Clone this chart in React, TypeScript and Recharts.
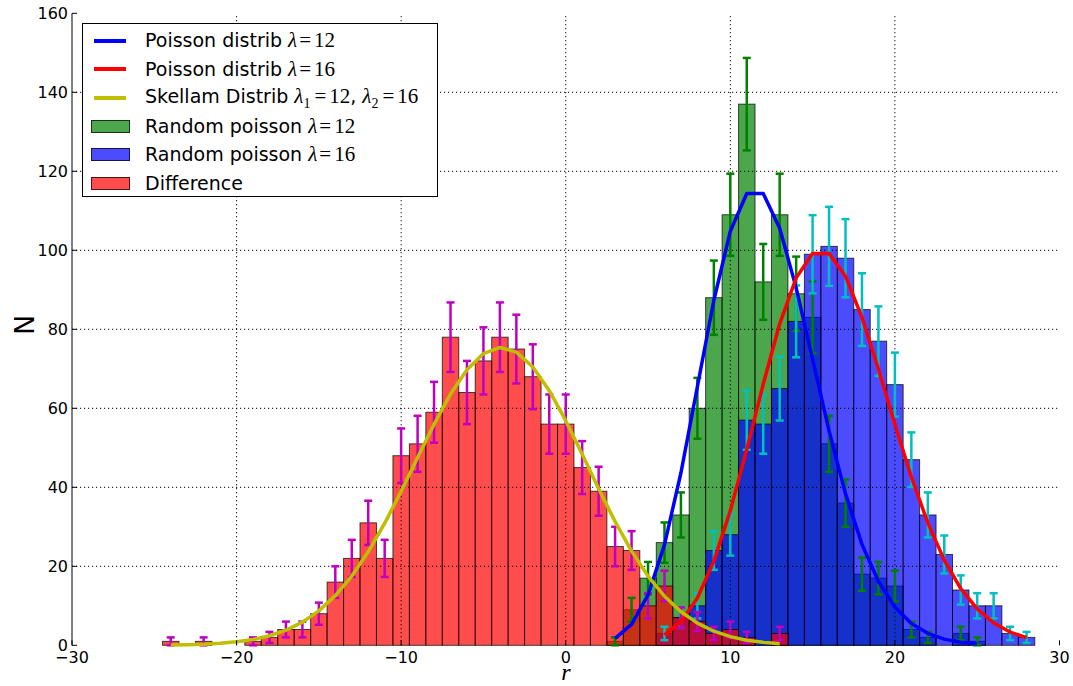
import { Bar, ComposedChart, ErrorBar, Line, ReferenceLine, XAxis, YAxis } from "recharts";

const W = 1073;
const H = 686;
const LEFT = 72;
const RIGHT = 1059.5;
const TOP = 13.3;
const BOTTOM = 645.3;
const BIN = (RIGHT - LEFT) / 60;

const SANS = "'DejaVu Sans', sans-serif";
const SERIF = "'Liberation Serif', 'DejaVu Serif', serif";

const GREEN = "#008000";
const BLUE = "#0000ff";
const RED = "#ff0000";
const YELLOW = "#bfbf00";
const MAGENTA = "#bf00bf";
const CYAN = "#00bfbf";

// bin centres (integer r)
const R = [
  -24, -23, -22, -21, -20, -19, -18, -17, -16, -15, -14, -13, -12, -11, -10, -9, -8, -7, -6,
  -5, -4, -3, -2, -1, 0, 1, 2, 3, 4, 5, 6, 7, 8, 9, 10, 11, 12, 13, 14, 15, 16, 17, 18, 19,
  20, 21, 22, 23, 24, 25, 26, 27, 28,
];

const X_TICKS = [-30, -20, -10, 0, 10, 20, 30];
const Y_TICKS = [0, 20, 40, 60, 80, 100, 120, 140, 160];

// difference histogram, r = -24 .. 13
const DIFF_FROM = -24;
const diffCounts = [
  1, 0, 1, 0, 0, 1, 2, 4, 4, 8, 16, 22, 31, 22, 48, 51, 59, 78, 64, 72, 78, 75, 68, 56, 56,
  45, 39, 25, 24, 10, 15, 7, 6, 3, 4, 2, 0, 3,
];
const diffErr = [
  1.0, null, 1.0, null, null, 1.0, 1.4, 2.0, 2.0, 2.8, 4.0, 4.7, 5.6, 4.7, 6.9, 7.1, 7.7, 8.8,
  8.0, 8.5, 8.8, 8.7, 8.2, 7.5, 7.5, 6.7, 6.2, 5.0, 4.9, 3.2, 3.9, 2.6, 2.4, 1.7, 2.0, 1.4,
  null, 1.7,
];

// random poisson lambda=12, r = 3 .. 25
const P12_FROM = 3;
const p12Counts = [
  1, 9, 17, 26, 33, 60, 88, 109, 137, 92, 109, 89, 83, 51, 36, 18, 17, 15, 4, 2, 0, 3, 1,
];
const p12Err = [
  1.0, 3.0, 4.1, 5.1, 5.7, 7.7, 9.4, 10.4, 11.7, 9.6, 10.4, 9.4, 9.1, 7.1, 6.0, 4.2, 4.1, 3.9,
  2.0, 1.4, null, 1.7, 1.0,
];

// random poisson lambda=16, r = 6 .. 28
const P16_FROM = 6;
const p16Counts = [
  3, 7, 10, 24, 28, 57, 56, 65, 82, 99, 101, 98, 85, 77, 66, 47, 33, 23, 14, 10, 10, 3, 2,
];
const p16Err = [
  1.7, 2.6, 3.2, 4.9, 5.3, 7.5, 7.5, 8.1, 9.1, 9.9, 10.0, 9.9, 9.2, 8.8, 8.1, 6.9, 5.7, 4.8,
  3.7, 3.2, 3.2, 1.7, 1.4,
];

// expected counts (N = 1000)
const pois12Curve = [
  1.77, 5.31, 12.74, 25.48, 43.68, 65.52, 87.36, 104.84, 114.37, 114.37, 105.57, 90.49, 72.39,
  54.29, 38.33, 25.55, 16.14, 9.68, 5.53, 3.02, 1.57, 0.79, 0.38,
];
const pois16Curve = [
  2.62, 5.99, 11.99, 21.31, 34.1, 49.6, 66.13, 81.39, 93.02, 99.22, 99.22, 93.38, 83.01, 69.9,
  55.92, 42.61, 30.99, 21.56, 14.37, 9.2, 5.66, 3.35, 1.92,
];
const skellamCurve = [
  0.08, 0.15, 0.28, 0.51, 0.88, 1.48, 2.41, 3.82, 5.86, 8.72, 12.57, 17.54, 23.67, 30.9, 38.99,
  47.53, 55.96, 63.6, 69.78, 73.85, 75.4, 74.23, 70.46, 64.47, 56.87, 48.36, 39.63, 31.31,
  23.85, 17.52, 12.42, 8.49, 5.6, 3.57, 2.2, 1.3, 0.75, 0.42,
];

const at = (arr: (number | null)[], from: number, x: number) => {
  const v = arr[x - from];
  return v === undefined ? null : v;
};

const rows = R.map((x) => ({
  x,
  diff: at(diffCounts, DIFF_FROM, x),
  diffErr: at(diffErr, DIFF_FROM, x),
  green: at(p12Counts, P12_FROM, x),
  greenErr: at(p12Err, P12_FROM, x),
  blue: at(p16Counts, P16_FROM, x),
  blueErr: at(p16Err, P16_FROM, x),
  p12: at(pois12Curve, P12_FROM, x),
  p16: at(pois16Curve, P16_FROM, x),
  sk: at(skellamCurve, DIFF_FROM, x),
}));

const fmt = (v: number) => (v < 0 ? `\u2212${-v}` : `${v}`);

const histShape = (color: string) => (p: any) => {
  if (!p.height || p.height <= 0) return <g />;
  return (
    <rect
      x={p.x}
      y={p.y}
      width={BIN}
      height={p.height}
      fill={color}
      fillOpacity={0.7}
      stroke="#000"
      strokeOpacity={0.7}
      strokeWidth={1}
    />
  );
};

const BottomTick = ({ x, payload }: any) => (
  <g>
    <line x1={x} x2={x} y1={BOTTOM} y2={BOTTOM - 5} stroke="#000" />
    <text x={x} y={BOTTOM + 18} textAnchor="middle" fontSize={16} fontFamily={SANS} fill="#000">
      {fmt(payload.value)}
    </text>
  </g>
);
const TopTick = ({ x }: any) => (
  <line x1={x} x2={x} y1={TOP} y2={TOP + 5} stroke="#000" />
);
const LeftTick = ({ y, payload }: any) => (
  <g>
    <line x1={LEFT} x2={LEFT + 5} y1={y} y2={y} stroke="#000" />
    <text x={LEFT - 4} y={y + 6} textAnchor="end" fontSize={16} fontFamily={SANS} fill="#000">
      {payload.value}
    </text>
  </g>
);
const RightTick = ({ y }: any) => (
  <line x1={RIGHT - 5} x2={RIGHT} y1={y} y2={y} stroke="#000" />
);

const GRID = { stroke: "#000", strokeDasharray: "1.2 2.8", strokeWidth: 1 };

const hiddenX = (id: string) => (
  <XAxis key={id} xAxisId={id} dataKey="x" type="number" domain={[-30, 30]} hide />
);

const MATH = { fontFamily: SERIF, fontSize: 21 };

// lambda = value, typeset loosely like mathtext
function Eq({ sub, val }: { sub?: string; val: string }) {
  return (
    <>
      <i style={MATH}>λ</i>
      {sub && <sub style={{ ...MATH, fontSize: 14 }}>{sub}</sub>}
      <span style={{ ...MATH, marginLeft: sub ? 4 : 2, marginRight: 3 }}>=</span>
      <span style={MATH}>{val}</span>
    </>
  );
}

function LegendBox() {
  const row = { height: 28.5, display: "flex", alignItems: "center", position: "relative" as const };
  const label = { position: "absolute" as const, left: 62, whiteSpace: "nowrap" as const };
  const lineKey = (c: string) => (
    <span style={{ position: "absolute", left: 11, width: 32, height: 4, background: c }} />
  );
  const patchKey = (c: string) => (
    <span
      style={{
        position: "absolute",
        left: 8,
        width: 37,
        height: 11,
        background: c,
        border: "1px solid rgba(0,0,0,0.7)",
      }}
    />
  );
  return (
    <div
      style={{
        position: "absolute",
        left: 82,
        top: 23.3,
        width: 356,
        height: 174,
        boxSizing: "border-box",
        border: "1px solid #000",
        background: "#fff",
        paddingTop: 2,
        fontFamily: SANS,
        fontSize: 19,
        color: "#000",
      }}
    >
      <div style={row}>
        {lineKey(BLUE)}
        <span style={label}>
          Poisson distrib <Eq val="12" />
        </span>
      </div>
      <div style={row}>
        {lineKey(RED)}
        <span style={label}>
          Poisson distrib <Eq val="16" />
        </span>
      </div>
      <div style={row}>
        {lineKey(YELLOW)}
        <span style={label}>
          Skellam Distrib <Eq sub="1" val="12" />, <Eq sub="2" val="16" />
        </span>
      </div>
      <div style={row}>
        {patchKey("rgba(0,128,0,0.7)")}
        <span style={label}>
          Random poisson <Eq val="12" />
        </span>
      </div>
      <div style={row}>
        {patchKey("rgba(0,0,255,0.7)")}
        <span style={label}>
          Random poisson <Eq val="16" />
        </span>
      </div>
      <div style={row}>
        {patchKey("rgba(255,0,0,0.7)")}
        <span style={label}>Difference</span>
      </div>
    </div>
  );
}

export default function App() {
  return (
    <div style={{ position: "absolute", left: 0, top: 0, width: W, height: H, background: "#fff", overflow: "hidden" }}>
      <ComposedChart
        width={W}
        height={H}
        data={rows}
        margin={{ top: TOP, right: W - RIGHT, bottom: H - BOTTOM - 30, left: 0 }}
      >
        <XAxis
          xAxisId="g"
          dataKey="x"
          type="number"
          domain={[-30, 30]}
          ticks={X_TICKS}
          height={30}
          tick={BottomTick}
          tickLine={false}
          axisLine={{ stroke: "#000" }}
        />
        <XAxis
          xAxisId="top"
          orientation="top"
          dataKey="x"
          type="number"
          domain={[-30, 30]}
          ticks={X_TICKS}
          height={0}
          tick={TopTick}
          tickLine={false}
          axisLine={{ stroke: "#000" }}
        />
        {["b", "r", "ge", "be", "re"].map(hiddenX)}
        <YAxis
          yAxisId="n"
          type="number"
          domain={[0, 160]}
          ticks={Y_TICKS}
          width={LEFT}
          tick={LeftTick}
          tickLine={false}
          axisLine={{ stroke: "#000" }}
        />
        <YAxis
          yAxisId="n2"
          orientation="right"
          type="number"
          domain={[0, 160]}
          ticks={Y_TICKS}
          width={0}
          tick={RightTick}
          tickLine={false}
          axisLine={{ stroke: "#000" }}
        />

        <Bar xAxisId="g" yAxisId="n" dataKey="green" barSize={BIN - 0.05} shape={histShape(GREEN)} isAnimationActive={false} />
        <Bar xAxisId="b" yAxisId="n" dataKey="blue" barSize={BIN - 0.05} shape={histShape(BLUE)} isAnimationActive={false} />
        <Bar xAxisId="r" yAxisId="n" dataKey="diff" barSize={BIN - 0.05} shape={histShape(RED)} isAnimationActive={false} />

        {/* dotted grid sits above the histograms */}
        {X_TICKS.slice(1, -1).map((v) => (
          <ReferenceLine key={`gx${v}`} xAxisId="g" yAxisId="n" x={v} {...GRID} />
        ))}
        {Y_TICKS.slice(1, -1).map((v) => (
          <ReferenceLine key={`gy${v}`} xAxisId="g" yAxisId="n" y={v} {...GRID} />
        ))}

        {/* error bars carried by empty bars so they draw over every histogram */}
        <Bar xAxisId="ge" yAxisId="n" dataKey="green" barSize={BIN - 0.05} fill="none" shape={() => <g />} isAnimationActive={false}>
          <ErrorBar dataKey="greenErr" direction="y" width={4} strokeWidth={2.5} stroke={GREEN} />
        </Bar>
        <Bar xAxisId="be" yAxisId="n" dataKey="blue" barSize={BIN - 0.05} fill="none" shape={() => <g />} isAnimationActive={false}>
          <ErrorBar dataKey="blueErr" direction="y" width={4} strokeWidth={2.5} stroke={CYAN} />
        </Bar>
        <Bar xAxisId="re" yAxisId="n" dataKey="diff" barSize={BIN - 0.05} fill="none" shape={() => <g />} isAnimationActive={false}>
          <ErrorBar dataKey="diffErr" direction="y" width={4} strokeWidth={2.5} stroke={MAGENTA} />
        </Bar>

        <Line xAxisId="g" yAxisId="n" type="linear" dataKey="p12" stroke={BLUE} strokeWidth={3.5} strokeLinejoin="round" dot={false} activeDot={false} isAnimationActive={false} />
        <Line xAxisId="g" yAxisId="n" type="linear" dataKey="p16" stroke={RED} strokeWidth={3.5} strokeLinejoin="round" dot={false} activeDot={false} isAnimationActive={false} />
        <Line xAxisId="g" yAxisId="n" type="linear" dataKey="sk" stroke={YELLOW} strokeWidth={3.5} strokeLinejoin="round" dot={false} activeDot={false} isAnimationActive={false} />
      </ComposedChart>

      <LegendBox />

      <div
        style={{
          position: "absolute",
          left: 24,
          top: 325,
          transform: "translate(-50%, -50%) rotate(-90deg)",
          fontFamily: SANS,
          fontSize: 27,
          lineHeight: 1,
        }}
      >
        N
      </div>
      <div
        style={{
          position: "absolute",
          left: 566,
          top: 659,
          transform: "translateX(-50%)",
          fontFamily: SERIF,
          fontStyle: "italic",
          fontSize: 24,
          lineHeight: "normal",
        }}
      >
        r
      </div>
    </div>
  );
}
